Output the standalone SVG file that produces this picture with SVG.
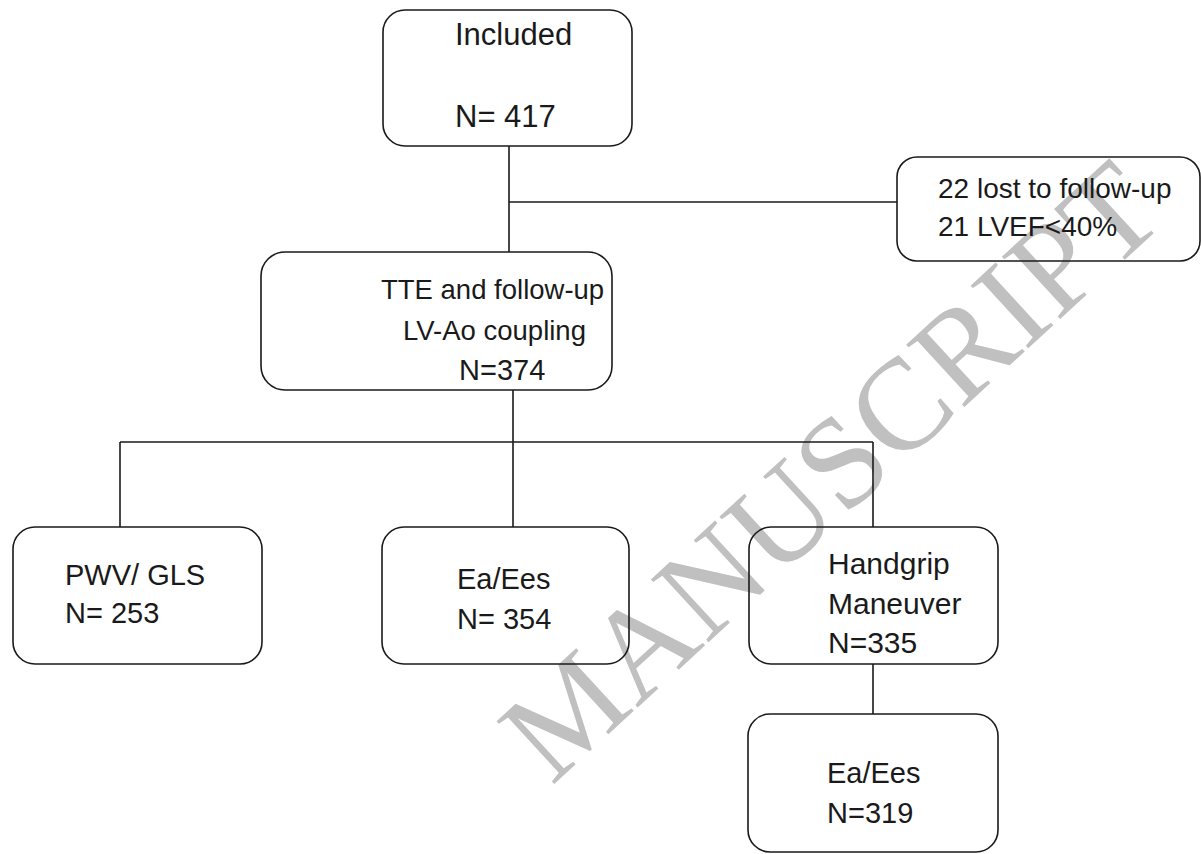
<svg xmlns="http://www.w3.org/2000/svg" width="1201" height="854" viewBox="0 0 1201 854">
<style>
.box{fill:none;stroke:#1a1a1a;stroke-width:1.6}
.t{font-family:"Liberation Sans",Arial,sans-serif;font-size:29px;fill:#1a1a1a}
.c{fill:none;stroke:#1a1a1a;stroke-width:1.6}
.wm{font-family:"Liberation Serif","Times New Roman",serif;font-size:130px;fill:#c0c0c0}
</style>
<rect width="1201" height="854" fill="#fff"/>
<text class="wm" text-anchor="middle" transform="translate(860,503) rotate(-42.6)">MANUSCRIPT</text>
<g id="connectors">
<path class="c" d="M509,146 V252"/>
<path class="c" d="M509,202 H897"/>
<path class="c" d="M513,390 V527"/>
<path class="c" d="M120,442 H873"/>
<path class="c" d="M120,442 V527"/>
<path class="c" d="M873,442 V527"/>
<path class="c" d="M873,664 V714"/>
</g>
<g id="included">
<rect class="box" x="383" y="10" width="249" height="136" rx="22"/>
<text class="t" x="455" y="45" style="font-size:31px">Included</text>
<text class="t" x="455" y="127" style="font-size:31px">N= 417</text>
</g>
<g id="excluded">
<rect class="box" x="897" y="157" width="303" height="104" rx="20"/>
<text class="t" x="938" y="198" style="font-size:28px">22 lost to follow-up</text>
<text class="t" x="938" y="236" style="font-size:28px">21 LVEF&lt;40%</text>
</g>
<g id="tte">
<rect class="box" x="261" y="252" width="351" height="138" rx="24"/>
<text class="t" x="381" y="299" style="font-size:27.5px">TTE and follow-up</text>
<text class="t" x="403" y="340" style="font-size:27.5px">LV-Ao coupling</text>
<text class="t" x="459" y="380">N=374</text>
</g>
<g id="pwv">
<rect class="box" x="13" y="527" width="249" height="137" rx="22"/>
<text class="t" x="65" y="585">PWV/ GLS</text>
<text class="t" x="65" y="623">N= 253</text>
</g>
<g id="eaees">
<rect class="box" x="382" y="527" width="247" height="137" rx="22"/>
<text class="t" x="457" y="589">Ea/Ees</text>
<text class="t" x="457" y="629">N= 354</text>
</g>
<g id="handgrip">
<rect class="box" x="749" y="527" width="249" height="137" rx="22"/>
<text class="t" x="828" y="574" style="font-size:30px">Handgrip</text>
<text class="t" x="828" y="614" style="font-size:30px">Maneuver</text>
<text class="t" x="828" y="653" style="font-size:30px">N=335</text>
</g>
<g id="eaees2">
<rect class="box" x="748" y="714" width="250" height="138" rx="22"/>
<text class="t" x="827" y="783">Ea/Ees</text>
<text class="t" x="827" y="823">N=319</text>
</g>
</svg>
